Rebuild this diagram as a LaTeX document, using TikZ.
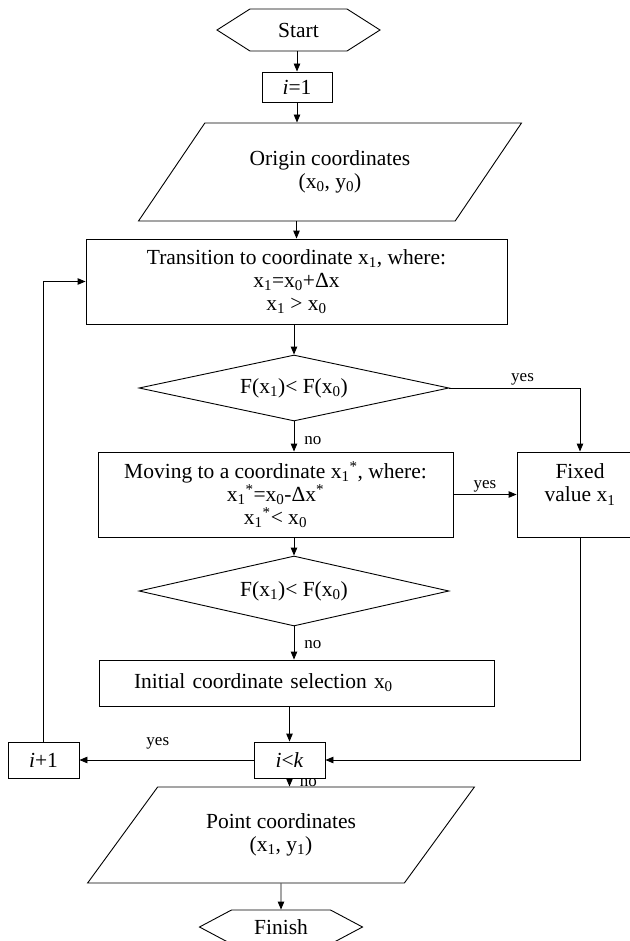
\documentclass[tikz,border=0pt]{standalone}
\usepackage{fontspec}
\setmainfont{Liberation Serif}
\usetikzlibrary{shapes.geometric, shapes.symbols, arrows.meta}

\tikzset{
  box/.style={draw, rectangle, inner sep=0pt, align=center},
  io/.style={draw, trapezium, trapezium left angle=45, trapezium right angle=135, trapezium stretches=true, inner sep=0pt, align=center},
  decision/.style={draw, diamond, aspect=4.5, inner sep=0pt},
  terminal/.style={draw, signal, signal to=east and west, inner sep=0pt},
  flow/.style={-{Triangle[length=8pt,width=6.5pt]}},
  lbl/.style={font=\fontsize{17}{19}\selectfont, inner sep=2pt},
}

\begin{document}
\begin{tikzpicture}[x=1pt, y=-1pt, line width=0.9pt, font=\fontsize{21.5}{23}\selectfont]
    \useasboundingbox (0,0) rectangle (629,941);

    % Start and counter
    \node[terminal, signal pointer angle=65, minimum width=163pt, minimum height=42pt] (start) at (298.5,30) {Start};
    \node[box, minimum width=70pt, minimum height=30pt] (i1) at (297,87) {\textit{i}=1};

    % Input of the origin
    \node[io, minimum width=384pt, minimum height=98pt] (orig) at (330,172) {Origin coordinates\\(x\textsubscript{0}, y\textsubscript{0})};

    % Step forward
    \node[box, minimum width=421pt, minimum height=85pt] (trans) at (296.5,281.5)
        {Transition to coordinate x\textsubscript{1}, where:\\x\textsubscript{1}=x\textsubscript{0}+Δx\\x\textsubscript{1} > x\textsubscript{0}};
    \node[decision, minimum width=310pt, minimum height=66pt] (dec1) at (294,388) {F(x\textsubscript{1})< F(x\textsubscript{0})};

    % Step backward
    \node[box, minimum width=355pt, minimum height=85pt] (move) at (275.5,494.5)
        {Moving to a coordinate x\textsubscript{1}\textsuperscript{*}, where:\\x\textsubscript{1}\textsuperscript{*}=x\textsubscript{0}-Δx\textsuperscript{*}\\x\textsubscript{1}\textsuperscript{*}< x\textsubscript{0}};
    \node[box, minimum width=126pt, minimum height=85pt] (fixed) at (580,494.5) {Fixed\\value x\textsubscript{1}\\\mbox{}};
    \node[decision, minimum width=310pt, minimum height=70pt] (dec2) at (294,591) {F(x\textsubscript{1})< F(x\textsubscript{0})};

    % New start point
    \node[box, minimum width=395pt, minimum height=46pt, inner xsep=35pt, text width=325pt, align=left] (init) at (296.5,683)
        {Initial coordinate selection x\textsubscript{0}};

    % Loop test
    \node[box, minimum width=71pt, minimum height=36pt] (ik) at (289.5,760) {\textit{i}<\textit{k}};
    \node[box, minimum width=71pt, minimum height=36pt] (ip1) at (43.5,760) {\textit{i}+1};

    % Output and end
    \node[io, minimum width=388pt, minimum height=96pt] (pt) at (281,835) {Point coordinates\\(x\textsubscript{1}, y\textsubscript{1})};
    \node[terminal, signal pointer angle=56, minimum width=163pt, minimum height=34pt] (finish) at (281,927) {Finish};

    % Connectors
    \draw[flow] (i1.north |- start.south) -- (i1.north);
    \draw[flow] (i1.south) -- (i1.south |- orig.north);
    \draw[flow] (trans.north |- orig.south) -- (trans.north);
    \draw[flow] (dec1.north |- trans.south) -- (dec1.north);
    \draw[flow] (dec1.south) -- (dec1.south |- move.north) node[lbl, right=8pt, pos=0.65] {no};
    \draw[flow] (dec1.east) -| (fixed.north) node[lbl, above, pos=0.28] {yes};
    \draw[flow] (move) -- (fixed) node[lbl, above, midway] {yes};
    \draw[flow] (dec2.north |- move.south) -- (dec2.north);
    \draw[flow] (dec2.south) -- (dec2.south |- init.north) node[lbl, right=8pt, pos=0.55] {no};
    \draw[flow] (ik.north |- init.south) -- (ik.north);
    \draw[flow] (ik.west) -- (ip1.east) node[lbl, above=8pt, pos=0.55] {yes};
    \draw[flow] (fixed.south) |- (ik.east);
    \draw[flow] (ik.south) -- (ik.south |- pt.north) node[lbl, right=8pt, pos=0.5] {no};
    \draw[flow] (pt.south) -- (finish.north);
    \draw[flow] (ip1.north) |- (trans.west);
\end{tikzpicture}
\end{document}
